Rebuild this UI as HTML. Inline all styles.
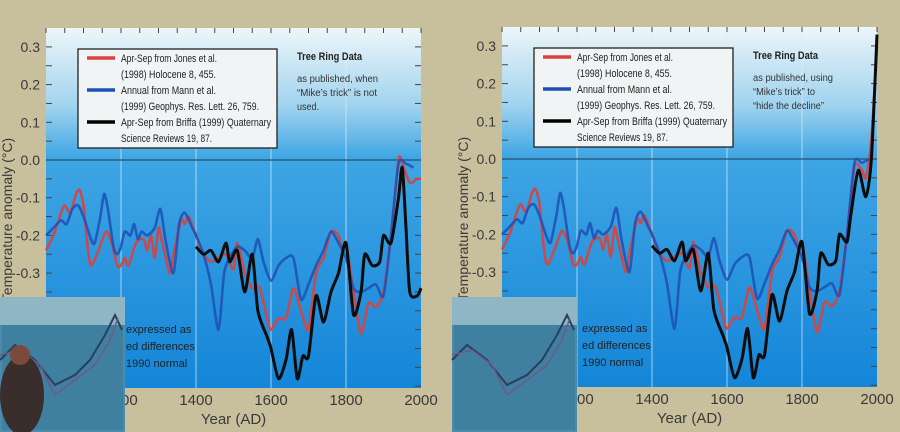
<!DOCTYPE html>
<html><head><meta charset="utf-8"><style>
html,body{margin:0;padding:0;background:#c8bf9c;width:900px;height:432px;overflow:hidden;}
svg{display:block;font-family:"Liberation Sans",sans-serif;}
</style></head><body>
<svg id="s" width="900" height="432" viewBox="0 0 900 432" xmlns="http://www.w3.org/2000/svg">
<defs>
<linearGradient id="bg" x1="0" y1="0" x2="0" y2="1">
<stop offset="0" stop-color="#eef6f9"/>
<stop offset="0.22" stop-color="#9fd2ee"/>
<stop offset="0.36" stop-color="#3fa6e4"/>
<stop offset="1" stop-color="#1485d8"/>
</linearGradient>
</defs>
<rect width="900" height="432" fill="#c8bf9c"/>
<g id="L" transform="translate(46,0)"></g>
<g id="R" transform="translate(502,-1)"></g>
</svg>
<script>
const NS="http://www.w3.org/2000/svg";
function el(p,t,a,txt){const e=document.createElementNS(NS,t);for(const k in a)e.setAttribute(k,a[k]);if(txt!==undefined)e.textContent=txt;p.appendChild(e);return e;}
const X=y=>(y-1000)*0.375, Y=v=>160-v*377;
const red=[[1000,-.24],[1020,-.2],[1040,-.14],[1050,-.12],[1065,-.14],[1080,-.09],[1090,-.08],[1100,-.12],[1110,-.22],[1120,-.28],[1140,-.24],[1160,-.19],[1175,-.22],[1190,-.28],[1200,-.28],[1210,-.26],[1220,-.28],[1240,-.22],[1260,-.21],[1270,-.24],[1280,-.2],[1290,-.26],[1300,-.18],[1310,-.22],[1330,-.3],[1340,-.25],[1360,-.16],[1370,-.17],[1380,-.15],[1400,-.2],[1420,-.25],[1440,-.27],[1460,-.26],[1480,-.25],[1500,-.29],[1510,-.22],[1530,-.3],[1550,-.34],[1570,-.34],[1590,-.42],[1600,-.45],[1620,-.42],[1640,-.42],[1660,-.34],[1680,-.4],[1700,-.45],[1720,-.3],[1740,-.26],[1760,-.19],[1780,-.2],[1790,-.24],[1800,-.22],[1820,-.35],[1840,-.46],[1860,-.38],[1880,-.39],[1900,-.35],[1920,-.2]];
const blue=[[1000,-.2],[1020,-.18],[1040,-.16],[1055,-.17],[1070,-.13],[1085,-.12],[1100,-.15],[1120,-.21],[1130,-.22],[1145,-.15],[1155,-.09],[1165,-.13],[1180,-.23],[1190,-.25],[1200,-.23],[1210,-.19],[1225,-.2],[1235,-.17],[1245,-.21],[1255,-.19],[1270,-.2],[1290,-.18],[1305,-.13],[1320,-.22],[1340,-.3],[1355,-.17],[1370,-.14],[1390,-.18],[1400,-.2],[1420,-.25],[1440,-.33],[1460,-.45],[1475,-.3],[1490,-.26],[1510,-.23],[1530,-.24],[1550,-.26],[1565,-.21],[1580,-.27],[1600,-.32],[1620,-.28],[1640,-.26],[1660,-.26],[1680,-.37],[1700,-.33],[1720,-.28],[1740,-.24],[1760,-.19],[1780,-.22],[1800,-.26],[1820,-.34],[1840,-.35],[1860,-.34],[1880,-.33],[1900,-.36],[1920,-.2],[1940,-.01]];
const black=[[1400,-.23],[1420,-.25],[1440,-.24],[1460,-.27],[1480,-.22],[1490,-.27],[1510,-.24],[1530,-.35],[1550,-.25],[1565,-.4],[1590,-.47],[1600,-.5],[1620,-.58],[1640,-.53],[1655,-.45],[1670,-.58],[1685,-.52],[1700,-.52],[1720,-.36],[1740,-.43],[1760,-.35],[1780,-.3],[1800,-.22],[1820,-.41],[1840,-.35],[1850,-.25],[1870,-.28],[1890,-.27],[1900,-.2],[1920,-.22]];
const sets={
L:{r:red.concat([[1940,0],[1950,-.01],[1970,-.06],[1990,-.05],[2000,-.05]]),
   b:blue.concat([[1960,-.01],[1980,-.02]]),
   k:black.concat([[1940,-.1],[1950,-.02],[1960,-.18],[1970,-.35],[1990,-.36],[2000,-.34]]),
   note:[["as published, when",81],["“Mike’s trick” is not",80],["used.",22]]},
R:{r:red.concat([[1940,-.02],[1960,-.03],[1970,-.05],[1985,.05],[2000,.3]]),
   b:blue.concat([[1960,-.01],[1980,0]]),
   k:black.concat([[1930,-.15],[1950,-.03],[1970,-.1],[1985,0],[2000,.33]]),
   note:[["as published, using",80],["“Mike’s trick” to",62],["“hide the decline”",71]]}};
function path(pts){
 const p=pts.map(a=>[X(a[0]),Y(a[1])]);let d="M"+p[0];
 const t=8;
 for(let i=0;i<p.length-1;i++){const p0=p[i-1]||p[i],p1=p[i],p2=p[i+1],p3=p[i+2]||p2;
  d+=`C${p1[0]+(p2[0]-p0[0])/t},${p1[1]+(p2[1]-p0[1])/t} ${p2[0]-(p3[0]-p1[0])/t},${p2[1]-(p3[1]-p1[1])/t} ${p2[0]},${p2[1]}`;}
 return d;}
for(const id of ["L","R"]){
 const g=document.getElementById(id),S=sets[id];
 el(g,"rect",{x:0,y:28,width:375,height:360,fill:"url(#bg)"});
 for(const yr of [1200,1400,1600,1800]) el(g,"line",{x1:X(yr),x2:X(yr),y1:28,y2:388,stroke:"#d8eefa","stroke-width":1,opacity:.7});
 el(g,"line",{x1:0,x2:375,y1:160,y2:160,stroke:"#26506e","stroke-width":1.2});
 for(let v=-0.6;v<=0.31;v+=0.05){el(g,"line",{x1:0,x2:6,y1:Y(v),y2:Y(v),stroke:"#444","stroke-width":1});el(g,"line",{x1:369,x2:375,y1:Y(v),y2:Y(v),stroke:"#444","stroke-width":1});}
 for(let yr=1000;yr<=2000;yr+=50){el(g,"line",{x1:X(yr),x2:X(yr),y1:28,y2:33,stroke:"#444"});}
 for(const v of [0.3,0.2,0.1,0.0,-0.1,-0.2,-0.3]) el(g,"text",{x:-6,y:Y(v)+5,"text-anchor":"end","font-size":14,fill:"#3a3a3a"},v.toFixed(1));
 el(g,"text",{transform:"translate(-34,220) rotate(-90)","text-anchor":"middle","font-size":14,fill:"#3a3a3a"},"Temperature anomaly (°C)");
 for(const yr of [1200,1400,1600,1800,2000]) el(g,"text",{x:X(yr),y:405,"text-anchor":"middle","font-size":15,fill:"#3a3a3a"},yr);
 el(g,"text",{x:X(1500),y:424,"text-anchor":"middle","font-size":15,fill:"#3a3a3a"},"Year (AD)");
 el(g,"path",{d:path(S.r),fill:"none",stroke:"#d9433c","stroke-width":2.6,"stroke-linejoin":"round",opacity:.9});
 el(g,"path",{d:path(S.b),fill:"none",stroke:"#1f4fb5","stroke-width":2.6,"stroke-linejoin":"round",opacity:.85});
 el(g,"path",{d:path(S.k),fill:"none",stroke:"#0c0c0c","stroke-width":3,"stroke-linejoin":"round"});
 el(g,"rect",{x:32,y:49,width:199,height:99,fill:"#f1f4f5",stroke:"#222","stroke-width":1.3});
 const lt=[["Apr-Sep from Jones et al.",96],["(1998) Holocene 8, 455.",95],["Annual from Mann et al.",95],["(1999) Geophys. Res. Lett. 26, 759.",138],["Apr-Sep from Briffa (1999) Quaternary",150],["Science Reviews 19, 87.",91]];
 lt.forEach(([t,w],i)=>el(g,"text",{x:75,y:62+i*16,"font-size":11,fill:"#222",textLength:w,lengthAdjust:"spacingAndGlyphs"},t));
 [["#d9433c",0],["#1f4fb5",2],["#000",4]].forEach(([c,i])=>el(g,"line",{x1:41,x2:69,y1:58+i*16,y2:58+i*16,stroke:c,"stroke-width":3.5}));
 el(g,"text",{x:251,y:60,"font-size":11,"font-weight":"bold",fill:"#222",textLength:65,lengthAdjust:"spacingAndGlyphs"},"Tree Ring Data");
 S.note.forEach(([t,w],i)=>el(g,"text",{x:251,y:82+i*14,"font-size":10.5,fill:"#333",textLength:w,lengthAdjust:"spacingAndGlyphs"},t));
 el(g,"text",{x:80,y:333,"font-size":11,fill:"#222"},"expressed as");
 el(g,"text",{x:80,y:350,"font-size":11,fill:"#222"},"ed differences");
 el(g,"text",{x:80,y:367,"font-size":11,fill:"#222"},"1990 normal");
}
function inset(x0,person){
 const s=document.getElementById("s");
 el(s,"rect",{x:x0,y:297,width:125,height:135,fill:"#4a8caa"});
 el(s,"rect",{x:x0,y:297,width:125,height:28,fill:"#8fb6c4"});
 el(s,"rect",{x:x0+2,y:325,width:121,height:105,fill:"#3f7fa0"});
 el(s,"polyline",{points:`${x0},360 ${x0+15},345 ${x0+35},360 ${x0+55},385 ${x0+75},375 ${x0+90},360 ${x0+105},335 ${x0+115},315 ${x0+122},330`,fill:"none",stroke:"#2a3f5a","stroke-width":2});
 el(s,"polyline",{points:`${x0},355 ${x0+20},350 ${x0+40},365 ${x0+55},395 ${x0+75},380 ${x0+95},365 ${x0+110},340 ${x0+118},318`,fill:"none",stroke:"#6c5a8a","stroke-width":1.5});
 if(person){el(s,"ellipse",{cx:x0+22,cy:395,rx:22,ry:40,fill:"#3a2e2c"});el(s,"circle",{cx:x0+20,cy:355,r:10,fill:"#7a4a3a"});}
}
inset(0,true);inset(452,false);
</script>
</body></html>
